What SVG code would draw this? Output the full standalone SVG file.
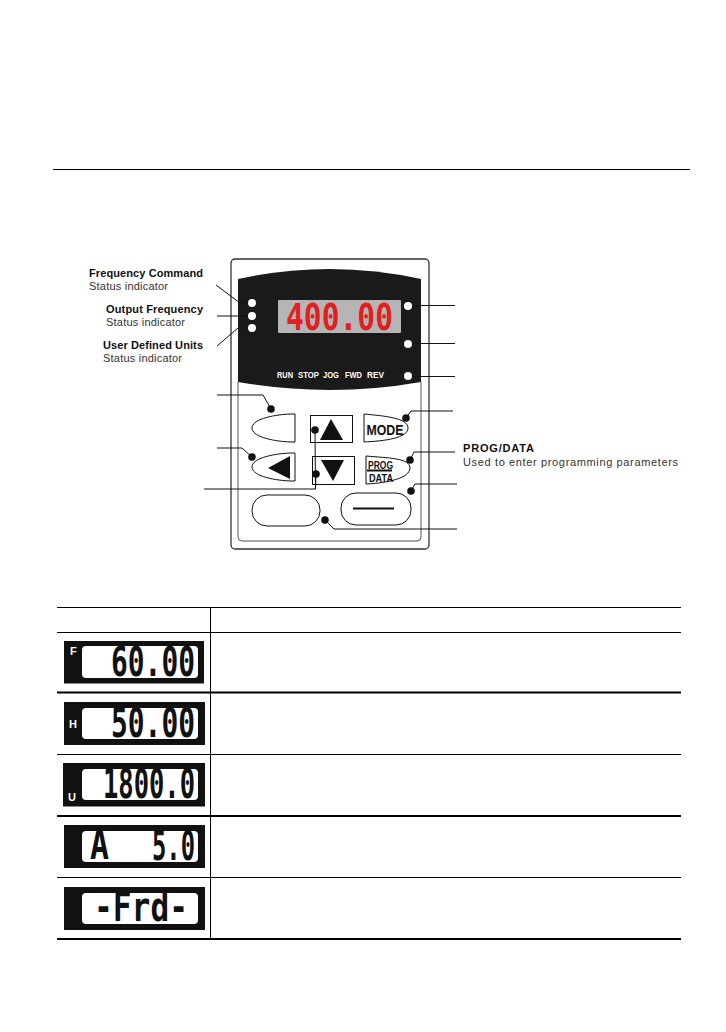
<svg xmlns="http://www.w3.org/2000/svg" width="726" height="1032" viewBox="0 0 726 1032">
<style>
text{font-family:"Liberation Sans",Arial,sans-serif;fill:#111}
.b{font-weight:700;font-size:11px}
.r{font-size:11px;fill:#333}
.st{font-weight:700;font-size:9px;fill:#fff}
.ln{fill:none;stroke:#111;stroke-width:1}
.key{fill:#fff;stroke:#111;stroke-width:1}
.wd{fill:#fff}
.bd{fill:#111}
.rule{stroke:#000;fill:none}
.lcd{font-family:"DejaVu Sans Mono",monospace;font-weight:700;font-size:40px;fill:#111}
.flag{font-weight:700;font-size:11px;fill:#fff}
</style>
<rect width="726" height="1032" fill="#fff"/>
<line class="rule" x1="53" y1="169.500" x2="690" y2="169.500" stroke-width="1"/>

<g id="panel">
<rect x="231" y="259" width="198" height="290" rx="4" fill="#fff" stroke="#333" stroke-width="1.3"/>
<path d="M238 382V537Q238 541 242 541H417Q421 541 421 537V382" fill="none" stroke="#555" stroke-width="1"/>
<path d="M238 279Q330 259 421 279V382Q330 398 238 382Z" fill="#1a1a1a"/>
<rect x="278" y="300" width="123" height="33" rx="1" fill="#b5b5b5"/>
<text x="286" y="330" font-size="37" font-weight="700" textLength="107" lengthAdjust="spacingAndGlyphs" style="font-family:'DejaVu Sans Mono',monospace;fill:#e02020">400.00</text>
<text class="st" x="277" y="378" textLength="16" lengthAdjust="spacingAndGlyphs">RUN</text>
<text class="st" x="298" y="378" textLength="21" lengthAdjust="spacingAndGlyphs">STOP</text>
<text class="st" x="323" y="378" textLength="16" lengthAdjust="spacingAndGlyphs">JOG</text>
<text class="st" x="345" y="378" textLength="17" lengthAdjust="spacingAndGlyphs">FWD</text>
<text class="st" x="367" y="378" textLength="17" lengthAdjust="spacingAndGlyphs">REV</text>
</g>

<g id="key-left-top"><path class="key" d="M295 414V442H290C270 441 252 436 252 428S270 415 290 414Z"/></g>
<g id="key-left"><path class="key" d="M295 453V481H290C270 480 252 475 252 467S270 454 290 453Z"/><path class="bd" d="M268 468L290 456V479Z"/></g>
<g id="key-up"><rect class="key" x="310.500" y="415.500" width="42" height="27"/><path class="bd" d="M331 419L343 440H320Z"/></g>
<g id="key-down"><rect class="key" x="312.500" y="456.500" width="42" height="28"/><path class="bd" d="M321 460H344L333 481Z"/></g>
<g id="key-mode"><path class="key" d="M364 414V442C385 441 408 438 408 428S385 416 364 414Z"/><text x="366.500" y="435" font-size="15" font-weight="700" textLength="37" lengthAdjust="spacingAndGlyphs">MODE</text></g>
<g id="key-prog"><path class="key" d="M366 456V484C388 483 410 478 410 468S388 458 366 456Z"/><text x="368" y="468.500" font-size="11" font-weight="700" textLength="25" lengthAdjust="spacingAndGlyphs">PROG</text><line x1="367" y1="470.500" x2="392" y2="470.500" stroke="#111" stroke-width="2"/><text x="369" y="482" font-size="11" font-weight="700" textLength="24" lengthAdjust="spacingAndGlyphs">DATA</text></g>
<g id="key-bottom-left"><rect class="key" x="252" y="495" width="68" height="31" rx="15"/></g>
<g id="key-bottom-right"><rect class="key" x="341" y="493" width="70" height="32" rx="15"/><line x1="353" y1="508.500" x2="394" y2="508.500" stroke="#111" stroke-width="2"/></g>

<g id="connectors">
<path class="ln" d="M216 285L240 303H249"/>
<path class="ln" d="M217 316H249" stroke="#555"/>
<path class="ln" d="M217 346L238 328H249"/>
<path class="ln" d="M411 305.500H455"/>
<path class="ln" d="M411 343.500H455"/>
<path class="ln" d="M411 376.500H455"/>
<path class="ln" d="M217 395H263L271 409"/>
<path class="ln" d="M217 448H242L252 457"/>
<path class="ln" d="M204 489H315.500L316 474"/>
<path class="ln" d="M315 430L315.500 489"/>
<path class="ln" d="M325 520L334 529H457"/>
<path class="ln" d="M406 418L411 411H453"/>
<path class="ln" d="M410 460L414 452H455"/>
<path class="ln" d="M411 491L415 484H457"/>
<g class="bd"><circle cx="271" cy="409" r="3.800"/><circle cx="252" cy="457" r="3.800"/><circle cx="315" cy="430" r="3.800"/><circle cx="316" cy="474" r="3.800"/><circle cx="325" cy="520" r="3.800"/><circle cx="406" cy="418" r="3.800"/><circle cx="410" cy="460" r="3.800"/><circle cx="411" cy="491" r="3.800"/></g>
<g class="wd"><circle cx="252" cy="303" r="4"/><circle cx="252" cy="316" r="4"/><circle cx="252" cy="328" r="4"/><circle cx="408" cy="306" r="4"/><circle cx="408" cy="344" r="4"/><circle cx="408" cy="376" r="4"/></g>
</g>

<g id="labels">
<text class="b" x="89" y="277" textLength="114">Frequency Command</text>
<text class="r" x="89" y="290" textLength="79">Status indicator</text>
<text class="b" x="106" y="313" textLength="97">Output Frequency</text>
<text class="r" x="106" y="326" textLength="79">Status indicator</text>
<text class="b" x="103" y="349" textLength="100">User Defined Units</text>
<text class="r" x="103" y="362" textLength="79">Status indicator</text>
<text class="b" x="463" y="452" textLength="71">PROG/DATA</text>
<text class="r" x="463" y="466" textLength="215">Used to enter programming parameters</text>
</g>

<g id="table">
<line class="rule" x1="57" y1="607.500" x2="681" y2="607.500" stroke-width="1"/>
<line class="rule" x1="57" y1="632.500" x2="681" y2="632.500" stroke-width="1"/>
<line class="rule" x1="57" y1="692.500" x2="681" y2="692.500" stroke-width="2"/>
<line class="rule" x1="57" y1="754.500" x2="681" y2="754.500" stroke-width="1"/>
<line class="rule" x1="57" y1="816" x2="681" y2="816" stroke-width="2"/>
<line class="rule" x1="57" y1="877.500" x2="681" y2="877.500" stroke-width="1"/>
<line class="rule" x1="57" y1="939" x2="681" y2="939" stroke-width="2"/>
<line class="rule" x1="210.500" y1="607" x2="210.500" y2="939" stroke-width="1"/>
</g>

<g id="display-f"><rect x="64" y="641" width="140" height="42.500" fill="#111"/><rect x="82" y="646" width="116" height="32" rx="4" fill="#fff"/><text class="flag" x="70" y="655">F</text><text class="lcd" x="111" y="676" textLength="84" lengthAdjust="spacingAndGlyphs">60.00</text></g>
<g id="display-h"><rect x="64" y="702" width="141" height="43" fill="#111"/><rect x="82" y="708" width="116" height="31" rx="4" fill="#fff"/><text class="flag" x="69" y="728">H</text><text class="lcd" x="111" y="737" textLength="84" lengthAdjust="spacingAndGlyphs">50.00</text></g>
<g id="display-u"><rect x="63" y="763" width="142" height="43.500" fill="#111"/><rect x="82" y="769" width="116" height="31" rx="4" fill="#fff"/><text class="flag" x="68" y="801">U</text><text class="lcd" x="103" y="798" textLength="92" lengthAdjust="spacingAndGlyphs">1800.0</text></g>
<g id="display-a"><rect x="64" y="825" width="141" height="43" fill="#111"/><rect x="82" y="831" width="116" height="31" rx="4" fill="#fff"/><text class="lcd" x="90" y="859" textLength="19" lengthAdjust="spacingAndGlyphs">A</text><text class="lcd" x="152" y="860" textLength="43" lengthAdjust="spacingAndGlyphs">5.0</text></g>
<g id="display-frd"><rect x="64" y="887" width="141" height="43" fill="#111"/><rect x="82" y="893" width="116" height="31" rx="4" fill="#fff"/><text class="lcd" x="94" y="921" textLength="94" lengthAdjust="spacingAndGlyphs">-Frd-</text></g>
</svg>
